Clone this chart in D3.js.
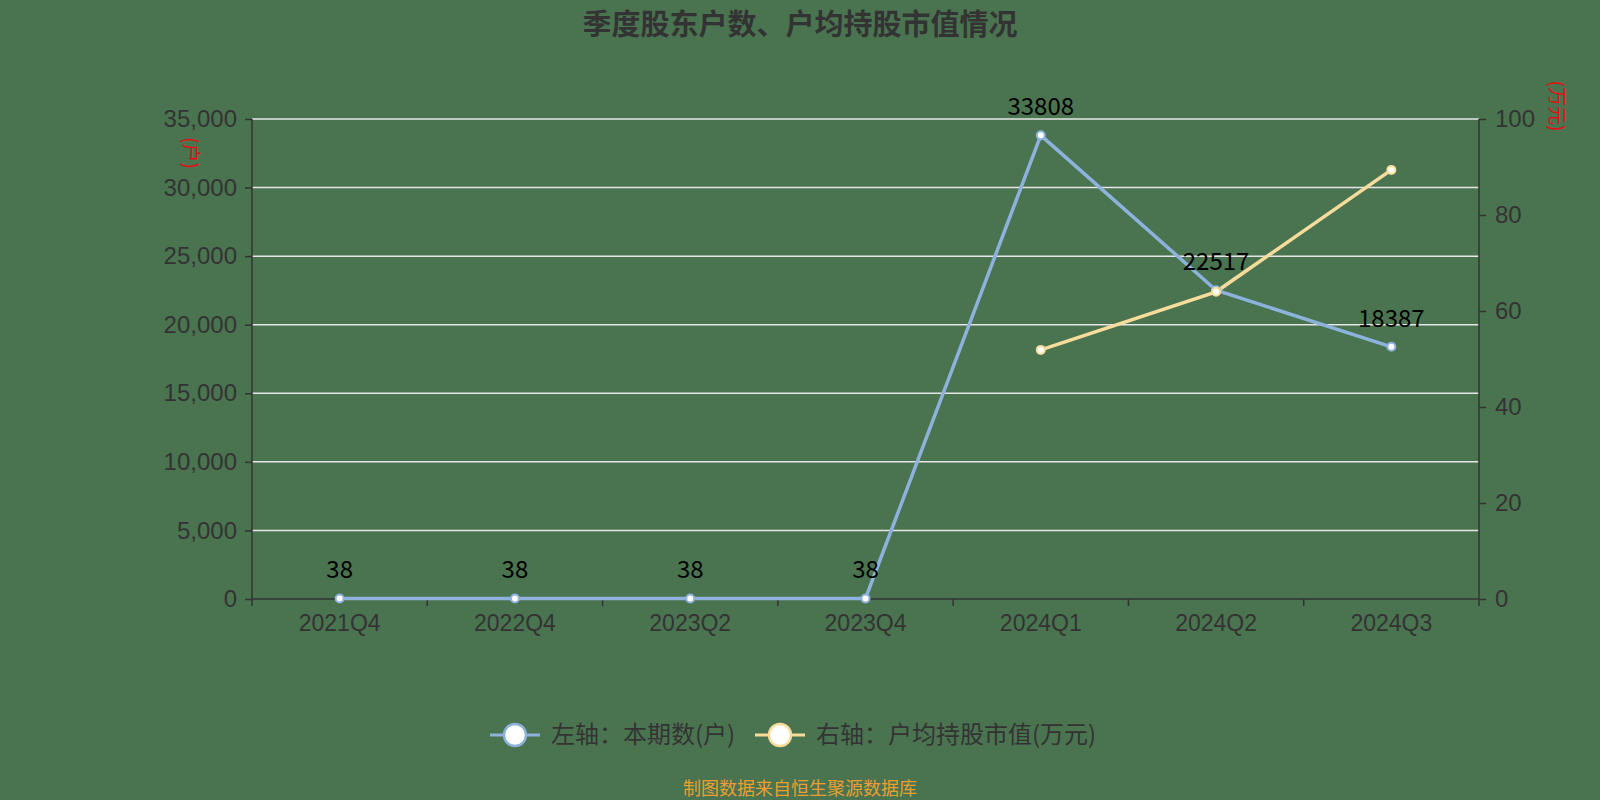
<!DOCTYPE html>
<html>
<head>
<meta charset="utf-8">
<script src="https://cdn.jsdelivr.net/npm/d3@7"></script>
<style>
  body { margin: 0; background: #4a7350; }
  svg { display: block; font-family: "Noto Sans CJK SC", "Noto Sans", sans-serif; }
</style>
</head>
<body>
<div id="chart"></div>
<script>
// categories and series
var quarters = ["2021Q4", "2022Q4", "2023Q2", "2023Q4", "2024Q1", "2024Q2", "2024Q3"];
var holders = [38, 38, 38, 38, 33808, 22517, 18387];
var avgValue = [null, null, null, null, 51.9, 64.0, 89.4];
var leftTicks = [0, 5000, 10000, 15000, 20000, 25000, 30000, 35000];
var rightTicks = [0, 20, 40, 60, 80, 100];

var W = 1600, H = 800;
var margin = { top: 119, right: 121, bottom: 201, left: 252 };
var width = W - margin.left - margin.right;
var height = H - margin.top - margin.bottom;

var svg = d3.select("#chart").append("svg")
    .attr("width", W)
    .attr("height", H);

svg.append("rect").attr("width", W).attr("height", H).attr("fill", "#4a7350");

// title
svg.append("text")
    .attr("x", 800).attr("y", 35)
    .attr("text-anchor", "middle")
    .attr("font-size", 29).attr("font-weight", "bold")
    .attr("fill", "#333")
    .text("季度股东户数、户均持股市值情况");

var g = svg.append("g")
    .attr("transform", "translate(" + margin.left + "," + margin.top + ")");

var x = d3.scaleBand().domain(quarters).range([0, width]);
var yL = d3.scaleLinear().domain([0, 35000]).range([height, 0]);
var yR = d3.scaleLinear().domain([0, 100]).range([height, 0]);

// grid lines
g.selectAll(".grid")
    .data(leftTicks.slice(1))
    .enter().append("line")
    .attr("x1", 0).attr("x2", width)
    .attr("y1", function (d) { return yL(d); })
    .attr("y2", function (d) { return yL(d); })
    .attr("stroke", "#e6e6e6").attr("stroke-width", 1.5);

// left axis
var leftAxis = g.append("g")
    .call(d3.axisLeft(yL).tickValues(leftTicks).tickSize(7).tickPadding(8)
        .tickFormat(d3.format(",")));
leftAxis.selectAll("text").attr("font-size", 24).attr("fill", "#333");
leftAxis.selectAll("line, path").attr("stroke", "#333").attr("stroke-width", 1.5);
leftAxis.select(".domain").attr("d", "M0," + height + "V0");

// right axis
var rightAxis = g.append("g")
    .attr("transform", "translate(" + width + ",0)")
    .call(d3.axisRight(yR).tickValues(rightTicks).tickSize(7).tickPadding(9));
rightAxis.selectAll("text").attr("font-size", 24).attr("fill", "#333");
rightAxis.selectAll("line, path").attr("stroke", "#333").attr("stroke-width", 1.5);
rightAxis.select(".domain").attr("d", "M0," + height + "V0");

// bottom axis, ticks at band boundaries
var bottomAxis = g.append("g")
    .attr("transform", "translate(0," + height + ")")
    .call(d3.axisBottom(x).tickSize(0).tickPadding(16));
bottomAxis.selectAll("text").attr("font-size", 23).attr("fill", "#333");
bottomAxis.select(".domain").attr("stroke", "#333").attr("stroke-width", 1.5)
    .attr("d", "M0,0H" + width);
bottomAxis.selectAll(".bnd")
    .data(d3.range(quarters.length + 1))
    .enter().append("line")
    .attr("x1", function (i) { return i * x.step(); })
    .attr("x2", function (i) { return i * x.step(); })
    .attr("y1", 0).attr("y2", 7)
    .attr("stroke", "#333").attr("stroke-width", 1.5);

// axis unit labels (rotated)
svg.append("text")
    .attr("transform", "translate(184,153) rotate(90)")
    .attr("text-anchor", "middle")
    .attr("font-size", 19).attr("fill", "#e01010")
    .text("(户)");
svg.append("text")
    .attr("transform", "translate(1550,106) rotate(90)")
    .attr("text-anchor", "middle")
    .attr("font-size", 19).attr("fill", "#e01010")
    .text("(万元)");

var cx = function (d, i) { return x(quarters[i]) + x.bandwidth() / 2; };

var blue = "#8db2dc", yellow = "#f8dc9c";

// holders line
var lineL = d3.line()
    .x(function (d, i) { return cx(d, i); })
    .y(function (d) { return yL(d); });
g.append("path")
    .datum(holders)
    .attr("fill", "none").attr("stroke", blue).attr("stroke-width", 3.5)
    .attr("d", lineL);

// avg value line
var lineR = d3.line()
    .defined(function (d) { return d != null; })
    .x(function (d, i) { return cx(d, i); })
    .y(function (d) { return yR(d); });
g.append("path")
    .datum(avgValue)
    .attr("fill", "none").attr("stroke", yellow).attr("stroke-width", 3.5)
    .attr("d", lineR);

// markers
g.selectAll(".mL")
    .data(holders)
    .enter().append("circle")
    .attr("cx", cx)
    .attr("cy", function (d) { return yL(d); })
    .attr("r", 4)
    .attr("fill", "#fff").attr("stroke", blue).attr("stroke-width", 2);

g.selectAll(".mR")
    .data(avgValue)
    .enter().filter(function (d) { return d != null; })
    .append("circle")
    .attr("cx", function (d) { return cx(d, avgValue.indexOf(d)); })
    .attr("cy", function (d) { return yR(d); })
    .attr("r", 4)
    .attr("fill", "#fff").attr("stroke", yellow).attr("stroke-width", 2);

// data labels
g.selectAll(".lbl")
    .data(holders)
    .enter().append("text")
    .attr("x", cx)
    .attr("y", function (d) { return yL(d) - 20; })
    .attr("text-anchor", "middle")
    .attr("font-size", 24).attr("fill", "#000")
    .text(function (d) { return d; });

// legend
var legend = svg.append("g").attr("transform", "translate(0,735)");
var items = [
    { name: "左轴：本期数(户)", color: blue, x: 490 },
    { name: "右轴：户均持股市值(万元)", color: yellow, x: 755 }
];
var li = legend.selectAll("g").data(items).enter().append("g")
    .attr("transform", function (d) { return "translate(" + d.x + ",0)"; });
li.append("line")
    .attr("x1", 0).attr("x2", 50)
    .attr("stroke", function (d) { return d.color; }).attr("stroke-width", 3);
li.append("circle")
    .attr("cx", 25).attr("r", 11)
    .attr("fill", "#fff").attr("stroke", function (d) { return d.color; }).attr("stroke-width", 2.5);
li.append("text")
    .attr("x", 61).attr("y", 8)
    .attr("font-size", 24).attr("fill", "#333")
    .text(function (d) { return d.name; });

// source note
svg.append("text")
    .attr("x", 800).attr("y", 795)
    .attr("text-anchor", "middle")
    .attr("font-size", 18).attr("fill", "#e8a030")
    .text("制图数据来自恒生聚源数据库");
</script>
</body>
</html>
